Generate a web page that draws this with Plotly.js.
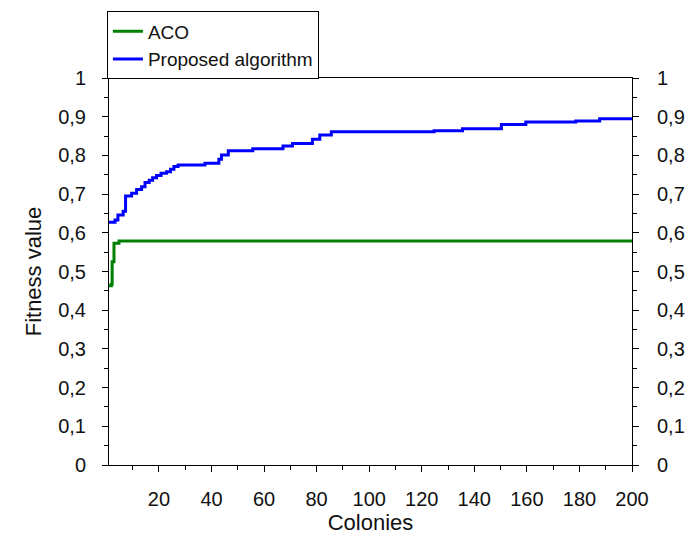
<!DOCTYPE html>
<html>
<head>
<meta charset="utf-8">
<script src="https://cdn.plot.ly/plotly-3.0.1.min.js"></script>
<style>body{margin:0;background:#fff;} #chart{width:689px;height:537px;}</style>
</head>
<body>
<div id="chart"></div>
<script>
// ACO series (step points)
const acoX = [1, 1.9, 2.2, 2.9, 4.8, 200];
const acoY = [0.463, 0.467, 0.525, 0.573, 0.579, 0.579];

// Proposed algorithm series (step points)
const propX = [1, 3.3, 4.4, 6.4, 7.3, 9.6, 11.5, 13.4, 14.7, 16.3, 17.6, 19.1, 20.8, 22.9, 24.4, 25.7, 27.3, 37.5, 42.8, 43.8, 46.4, 55.7, 67.2, 70.8, 78.4, 81.2, 85.6, 124.7, 135.5, 150.3, 159.6, 178.6, 187.7, 200];
const propY = [0.627, 0.633, 0.646, 0.656, 0.695, 0.702, 0.712, 0.719, 0.730, 0.736, 0.742, 0.748, 0.754, 0.758, 0.764, 0.771, 0.775, 0.780, 0.790, 0.801, 0.812, 0.817, 0.824, 0.831, 0.842, 0.853, 0.861, 0.864, 0.869, 0.880, 0.886, 0.889, 0.895, 0.895];

const xTicks = [20, 40, 60, 80, 100, 120, 140, 160, 180, 200];
const yTicks = [0, 0.1, 0.2, 0.3, 0.4, 0.5, 0.6, 0.7, 0.8, 0.9, 1];
const seriesNames = ['ACO', 'Proposed algorithm'];

const traces = [
  {x: acoX, y: acoY, name: seriesNames[0], mode: 'lines', yaxis: 'y2', line: {color: '#008000', width: 3, shape: 'hv'}},
  {x: propX, y: propY, name: seriesNames[1], mode: 'lines', line: {color: '#0000ff', width: 3, shape: 'hv'}}
];

const FF = 'Liberation Sans, Arial, sans-serif';
const tickFont = {family: FF, size: 20, color: '#111'};
const layout = {
  width: 689, height: 537,
  margin: {l: 109, r: 57, t: 78, b: 72},
  paper_bgcolor: '#fff', plot_bgcolor: '#fff',
  separators: ',.',
  showlegend: true,
  legend: {
    x: -0.004, y: 1.172, xanchor: 'left', yanchor: 'top',
    bgcolor: '#fff', bordercolor: '#000', borderwidth: 1,
    font: {family: FF, size: 19, color: '#111'},
    tracegroupgap: 0,
    entrywidth: 195, entrywidthmode: 'pixels'
  },
  xaxis: {
    range: [1, 200], tickmode: 'array', tickvals: xTicks,
    ticks: 'outside', ticklen: 6, tickcolor: '#000', tickwidth: 1,
    minor: {dtick: 10, tick0: 0, ticks: 'outside', ticklen: 4, tickcolor: '#000', showgrid: false},
    showline: true, linecolor: '#000', linewidth: 1, mirror: true,
    showgrid: false, zeroline: false,
    tickfont: tickFont, ticklabelstandoff: 10,
    title: {text: 'Colonies', font: {family: FF, size: 22, color: '#111'}, standoff: 4}
  },
  yaxis: {
    range: [0, 1], tickmode: 'array', tickvals: yTicks,
    ticks: 'outside', ticklen: 6, tickcolor: '#000', tickwidth: 1,
    minor: {dtick: 0.05, tick0: 0, ticks: 'outside', ticklen: 4, tickcolor: '#000', showgrid: false},
    showline: true, linecolor: '#000', linewidth: 1,
    showgrid: false, zeroline: false,
    tickfont: tickFont, ticklabelstandoff: 12,
    title: {text: 'Fitness value', font: {family: FF, size: 22, color: '#111'}, standoff: 10}
  },
  yaxis2: {
    overlaying: 'y', side: 'right', matches: 'y', range: [0, 1],
    tickmode: 'array', tickvals: yTicks,
    ticks: 'outside', ticklen: 6, tickcolor: '#000', tickwidth: 1,
    minor: {dtick: 0.05, tick0: 0, ticks: 'outside', ticklen: 4, tickcolor: '#000', showgrid: false},
    showline: true, linecolor: '#000', linewidth: 1,
    showgrid: false, zeroline: false,
    tickfont: tickFont, ticklabelstandoff: 14
  }
};

Plotly.newPlot('chart', traces, layout, {displayModeBar: false, staticPlot: true});
</script>
</body>
</html>
